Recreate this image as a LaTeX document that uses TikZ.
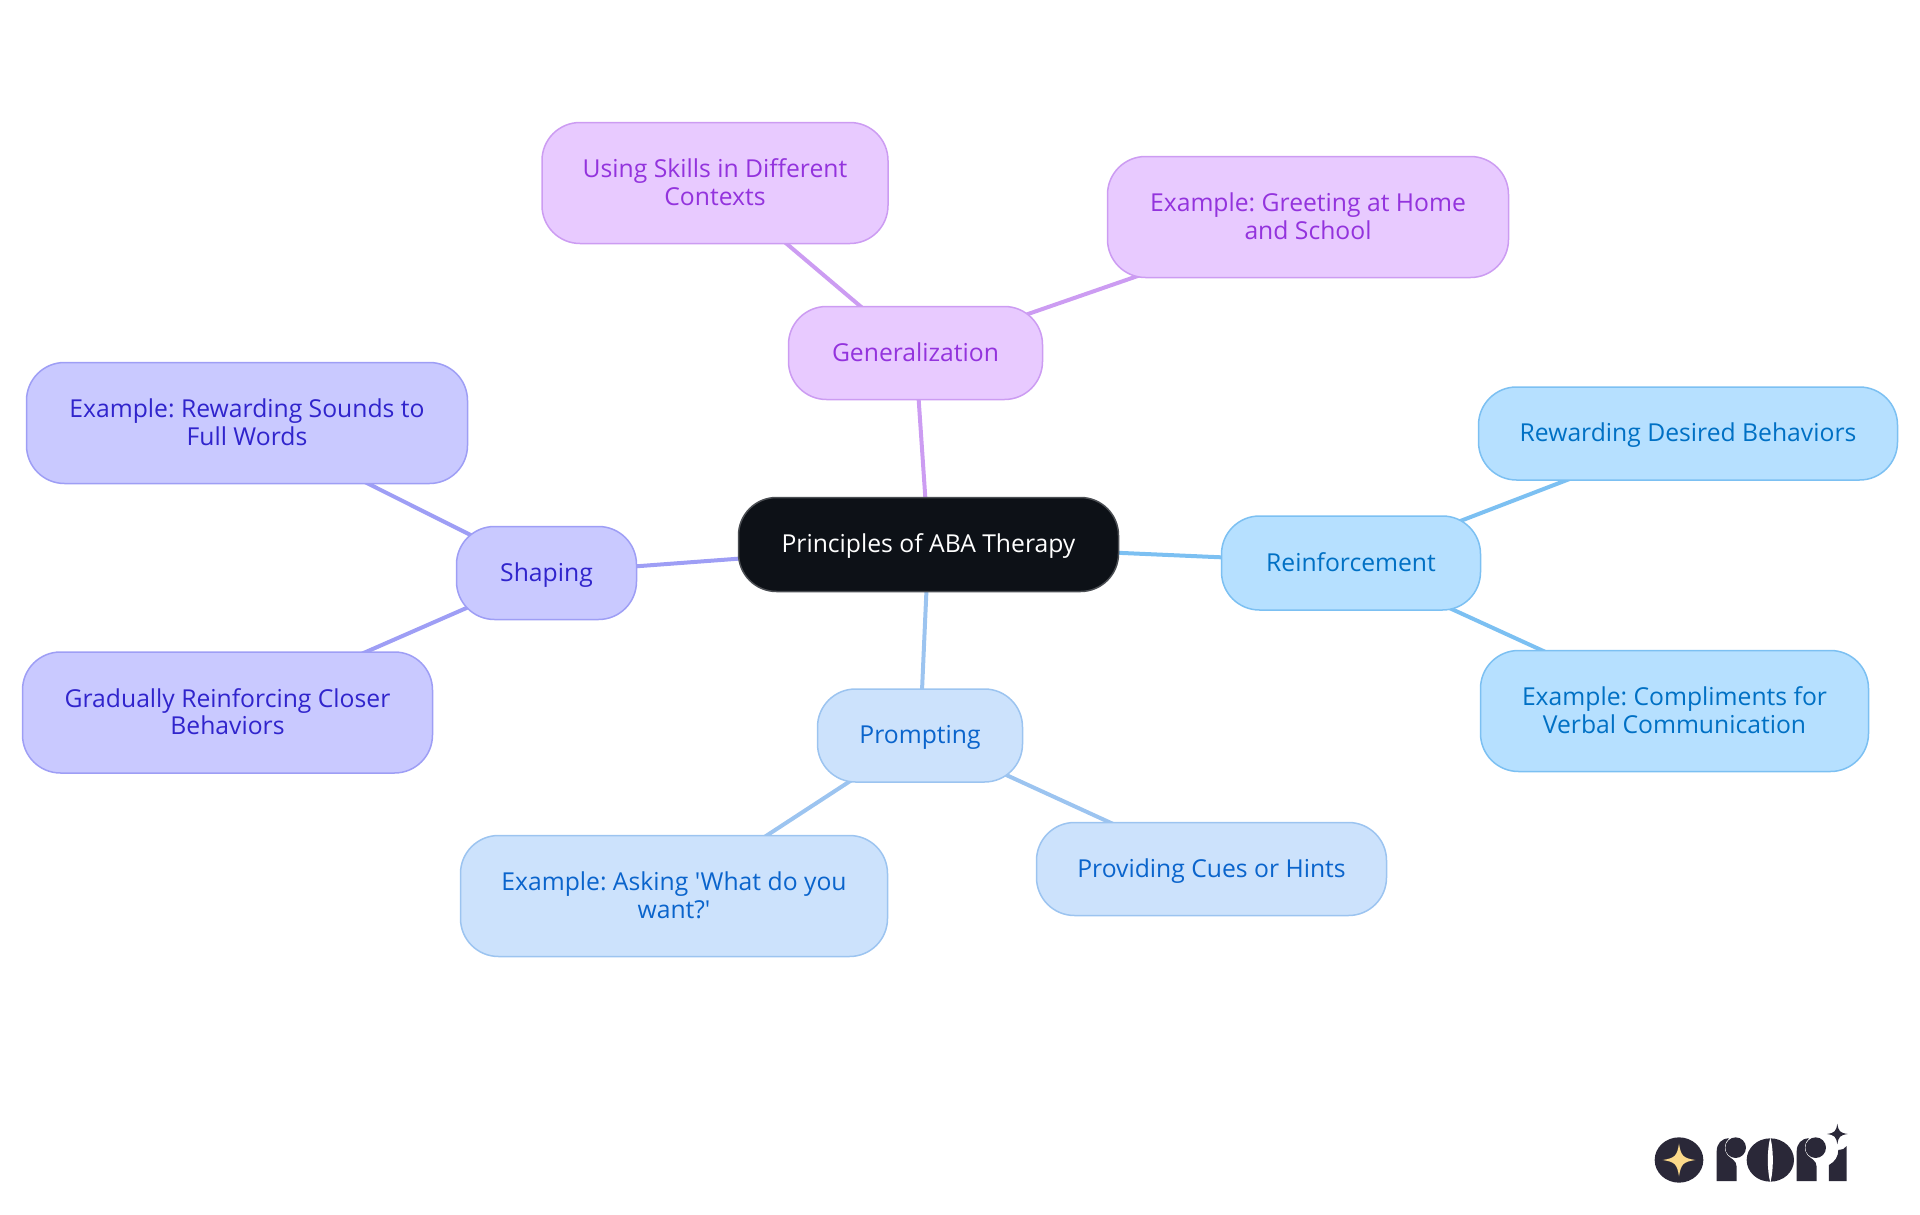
\documentclass[tikz,border=0pt]{standalone}
\usepackage{fontspec}
\setmainfont{Open Sans}[Ligatures=TeXOff]
\frenchspacing
\usetikzlibrary{backgrounds}
\definecolor{rootf}{HTML}{0D1117}\definecolor{rootd}{HTML}{4A4D52}
\definecolor{genf}{HTML}{E8CAFF}\definecolor{gend}{HTML}{CC9CF2}\definecolor{gent}{HTML}{9333DD}
\definecolor{reif}{HTML}{B6E0FF}\definecolor{reid}{HTML}{7CC0F2}\definecolor{reit}{HTML}{0070C4}
\definecolor{prof}{HTML}{CCE2FC}\definecolor{prod}{HTML}{9CC4F0}\definecolor{prot}{HTML}{0A64CC}
\definecolor{shaf}{HTML}{C9C9FF}\definecolor{shad}{HTML}{9E9EF5}\definecolor{shat}{HTML}{3024CC}
\definecolor{logod}{HTML}{2A2838}\definecolor{logos}{HTML}{FBD98A}
\newcommand{\lineprop}{\rule[-5.5pt]{0pt}{28pt}}
\tikzset{
  box/.style={rectangle,rounded corners=38pt,inner sep=0pt,align=center,line width=1.5pt,
     font=\fontsize{24.7}{27.5}\selectfont,execute at end node=\rule[-2pt]{0pt}{2pt}},
  oneline/.style={execute at begin node=\lineprop,execute at end node=\lineprop},
  rootbox/.style={box,fill=rootf,draw=rootd,text=white},
  genbox/.style={box,fill=genf,draw=gend,text=gent},
  reibox/.style={box,fill=reif,draw=reid,text=reit},
  probox/.style={box,fill=prof,draw=prod,text=prot},
  shabox/.style={box,fill=shaf,draw=shad,text=shat},
  link/.style={line width=4pt},
}
\newcommand{\sparkle}[4]{% cx cy arm colour
  \fill[#4] (#1-#3,#2) .. controls (#1-#3*0.25,#2-#3*0.12) and (#1-#3*0.12,#2-#3*0.25) .. (#1,#2-#3)
   .. controls (#1+#3*0.12,#2-#3*0.25) and (#1+#3*0.25,#2-#3*0.12) .. (#1+#3,#2)
   .. controls (#1+#3*0.25,#2+#3*0.12) and (#1+#3*0.12,#2+#3*0.25) .. (#1,#2+#3)
   .. controls (#1-#3*0.12,#2+#3*0.25) and (#1-#3*0.25,#2+#3*0.12) .. cycle;}
\newcommand{\logor}[1]{%
  \fill[logod,xshift=#1*0.3333pt] (290,243) -- (290,155) .. controls (290,130) and (305,115) .. (327,115)
    .. controls (312,128) and (310,150) .. (322,165) .. controls (330,175) and (350,180) .. (350,200) -- (350,243) -- cycle;
  \fill[logod,xshift=#1*0.3333pt] (347,143) circle[radius=31];}
\begin{document}
\begin{tikzpicture}[x=1pt,y=-1pt]
\useasboundingbox (0,0) rectangle (1920,1215);
\node[rootbox,oneline,minimum width=380pt,minimum height=94pt] (root) at (928.5,544.5) {Principles of ABA Therapy};
\node[genbox,oneline,minimum width=254pt,minimum height=93pt] (gen) at (915.5,353) {Generalization};
\node[genbox,minimum width=346pt,minimum height=121pt] (skills) at (715,183) {Using Skills in Different\\Contexts};
\node[genbox,minimum width=401pt,minimum height=121pt] (greet) at (1308,217) {Example: Greeting at Home\\and School};
\node[shabox,oneline,minimum width=180pt,minimum height=93pt] (sha) at (546.5,573) {Shaping};
\node[shabox,minimum width=441pt,minimum height=121pt] (sounds) at (247,423) {Example: Rewarding Sounds to\\Full Words};
\node[shabox,minimum width=410pt,minimum height=121pt] (grad) at (227.5,712.5) {Gradually Reinforcing Closer\\Behaviors};
\node[reibox,oneline,minimum width=259pt,minimum height=94pt] (rei) at (1351,563) {Reinforcement};
\node[reibox,oneline,minimum width=419pt,minimum height=93pt] (des) at (1688,433.5) {Rewarding Desired Behaviors};
\node[reibox,minimum width=388pt,minimum height=121pt] (comp) at (1674.5,711) {Example: Compliments for\\Verbal Communication};
\node[probox,oneline,minimum width=205pt,minimum height=93pt] (pro) at (920,735.5) {Prompting};
\node[probox,minimum width=427pt,minimum height=121pt] (ask) at (674,896) {Example: Asking 'What do you\\want?'};
\node[probox,oneline,minimum width=350pt,minimum height=93pt] (cue) at (1211.5,869) {Providing Cues or Hints};
\begin{pgfonlayer}{background}
\draw[link,draw=gend] (root.center) -- (gen.center);
\draw[link,draw=gend] (gen.center) -- (skills.center);
\draw[link,draw=gend] (gen.center) -- (greet.center);
\draw[link,draw=shad] (root.center) -- (sha.center);
\draw[link,draw=shad] (sha.center) -- (sounds.center);
\draw[link,draw=shad] (sha.center) -- (grad.center);
\draw[link,draw=reid] (root.center) -- (rei.center);
\draw[link,draw=reid] (rei.center) -- (des.center);
\draw[link,draw=reid] (rei.center) -- (comp.center);
\draw[link,draw=prod] (root.center) -- (pro.center);
\draw[link,draw=prod] (pro.center) -- (ask.center);
\draw[link,draw=prod] (pro.center) -- (cue.center);
\end{pgfonlayer}
\begin{scope}[shift={(1620,1100)},x=0.3333pt,y=-0.3333pt]
  \fill[logod] (177,180) ellipse[x radius=73,y radius=68];
  \sparkle{177}{180}{49}{logos}
  \logor{0}
  \fill[logod] (451,180) ellipse[x radius=71,y radius=65];
  \fill[white] (451,112) .. controls (441,150) and (441,210) .. (451,248) .. controls (461,210) and (461,150) .. (451,112) -- cycle;
  \logor{240}
  \fill[logod] (627,243) -- (627,195) .. controls (645,185) and (655,170) .. (655,150) .. controls (665,150) and (675,147) .. (680,138) -- (680,243) -- cycle;
  \sparkle{652}{102}{31}{logod}
\end{scope}
\end{tikzpicture}
\end{document}
